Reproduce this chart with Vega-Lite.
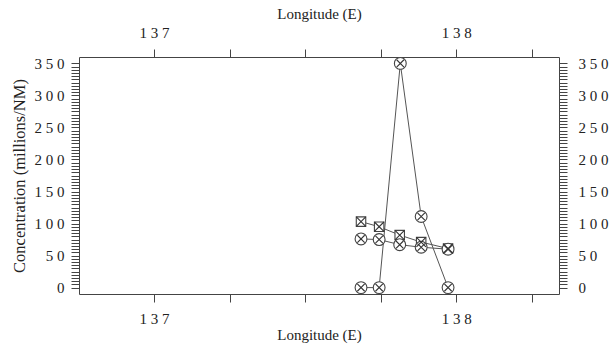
{
  "$schema": "https://vega.github.io/schema/vega-lite/v6.json",
  "width": 480,
  "height": 237,
  "autosize": {"type": "none"},
  "padding": {"left": 79, "top": 57, "right": 57, "bottom": 55},
  "background": "white",
  "config": {
    "view": {"stroke": null},
    "font": "Liberation Serif",
    "axis": {
      "grid": false,
      "domainColor": "#444",
      "tickColor": "#444",
      "tickSize": 8,
      "labelFont": "Liberation Serif",
      "titleFont": "Liberation Serif",
      "labelFontSize": 15,
      "titleFontSize": 15,
      "titleFontWeight": "normal",
      "labelColor": "#222",
      "titleColor": "#222",
      "labelOverlap": false,
      "labelFlush": false
    }
  },
  "data": {
    "values": [
      {"series": "A", "lon": 137.685, "conc": 0},
      {"series": "A", "lon": 137.745, "conc": 0},
      {"series": "A", "lon": 137.815, "conc": 350},
      {"series": "A", "lon": 137.884, "conc": 111},
      {"series": "A", "lon": 137.973, "conc": 0},
      {"series": "B", "lon": 137.685, "conc": 103},
      {"series": "B", "lon": 137.745, "conc": 95},
      {"series": "B", "lon": 137.813, "conc": 82},
      {"series": "B", "lon": 137.884, "conc": 71},
      {"series": "B", "lon": 137.973, "conc": 61},
      {"series": "C", "lon": 137.685, "conc": 76},
      {"series": "C", "lon": 137.745, "conc": 75},
      {"series": "C", "lon": 137.813, "conc": 67},
      {"series": "C", "lon": 137.884, "conc": 63},
      {"series": "C", "lon": 137.973, "conc": 60}
    ]
  },
  "resolve": {"scale": {"x": "independent", "y": "independent", "shape": "independent"}},
  "layer": [
    {
      "mark": {"type": "line", "color": "#555", "strokeWidth": 1},
      "encoding": {
        "x": {
          "field": "lon", "type": "quantitative",
          "scale": {"domain": [136.752, 138.34], "nice": false, "zero": false},
          "axis": {
            "orient": "bottom",
            "title": "Longitude (E)",
            "values": [136.75, 137, 137.25, 137.5, 137.75, 138, 138.25],
            "labelExpr": "(datum.value == 137 || datum.value == 138) ? join(split(format(datum.value, 'd'), ''), ' ') : ''",
            "labelPadding": 9,
            "titlePadding": 1
          }
        },
        "y": {
          "field": "conc", "type": "quantitative",
          "scale": {"domain": [-10, 360], "nice": false, "zero": false},
          "axis": {
            "orient": "left",
            "title": "Concentration (millions/NM)",
            "titleFontSize": 16.5,
            "values": [0,5,10,15,20,25,30,35,40,45,50,55,60,65,70,75,80,85,90,95,100,105,110,115,120,125,130,135,140,145,150,155,160,165,170,175,180,185,190,195,200,205,210,215,220,225,230,235,240,245,250,255,260,265,270,275,280,285,290,295,300,305,310,315,320,325,330,335,340,345,350],
            "labelExpr": "datum.value % 50 == 0 ? join(split(format(datum.value, 'd'), ''), ' ') : ''",
            "labelPadding": 7,
            "titlePadding": 7
          }
        },
        "detail": {"field": "series"}
      }
    },
    {
      "mark": {"type": "point", "filled": false, "strokeWidth": 1.1, "opacity": 1, "fill": "white", "fillOpacity": 1, "size": 140},
      "encoding": {
        "x": {"field": "lon", "type": "quantitative", "scale": {"domain": [136.752, 138.34], "nice": false, "zero": false}, "axis": null},
        "y": {"field": "conc", "type": "quantitative", "scale": {"domain": [-10, 360], "nice": false, "zero": false}, "axis": null},
        "shape": {"field": "series", "type": "nominal", "scale": {"domain": ["A", "B", "C"], "range": ["circle", "M-0.8,-0.8L0.8,-0.8L0.8,0.8L-0.8,0.8Z", "circle"]}, "legend": null},
        "color": {"value": "#444"}
      }
    },
    {
      "mark": {"type": "point", "filled": false, "strokeWidth": 1.1, "opacity": 1, "size": 140},
      "encoding": {
        "x": {"field": "lon", "type": "quantitative", "scale": {"domain": [136.752, 138.34], "nice": false, "zero": false}, "axis": null},
        "y": {"field": "conc", "type": "quantitative", "scale": {"domain": [-10, 360], "nice": false, "zero": false}, "axis": null},
        "shape": {"field": "series", "type": "nominal", "scale": {"domain": ["A", "B", "C"], "range": ["M-0.62,-0.62L0.62,0.62M-0.62,0.62L0.62,-0.62", "M-0.8,-0.8L0.8,0.8M-0.8,0.8L0.8,-0.8", "M-0.62,-0.62L0.62,0.62M-0.62,0.62L0.62,-0.62"]}, "legend": null},
        "color": {"value": "#333"}
      }
    },
    {
      "mark": {"type": "point", "opacity": 0},
      "encoding": {
        "x": {
          "field": "lon", "type": "quantitative",
          "scale": {"domain": [136.752, 138.34], "nice": false, "zero": false},
          "axis": {
            "orient": "top",
            "title": "Longitude (E)",
            "values": [136.75, 137, 137.25, 137.5, 137.75, 138, 138.25],
            "labelExpr": "(datum.value == 137 || datum.value == 138) ? join(split(format(datum.value, 'd'), ''), ' ') : ''",
            "labelPadding": 9,
            "titlePadding": 4
          }
        },
        "y": {
          "field": "conc", "type": "quantitative",
          "scale": {"domain": [-10, 360], "nice": false, "zero": false},
          "axis": {
            "orient": "right",
            "title": null,
            "values": [0,5,10,15,20,25,30,35,40,45,50,55,60,65,70,75,80,85,90,95,100,105,110,115,120,125,130,135,140,145,150,155,160,165,170,175,180,185,190,195,200,205,210,215,220,225,230,235,240,245,250,255,260,265,270,275,280,285,290,295,300,305,310,315,320,325,330,335,340,345,350],
            "labelExpr": "datum.value % 50 == 0 ? join(split(format(datum.value, 'd'), ''), ' ') : ''",
            "labelPadding": 11
          }
        }
      }
    }
  ]
}
